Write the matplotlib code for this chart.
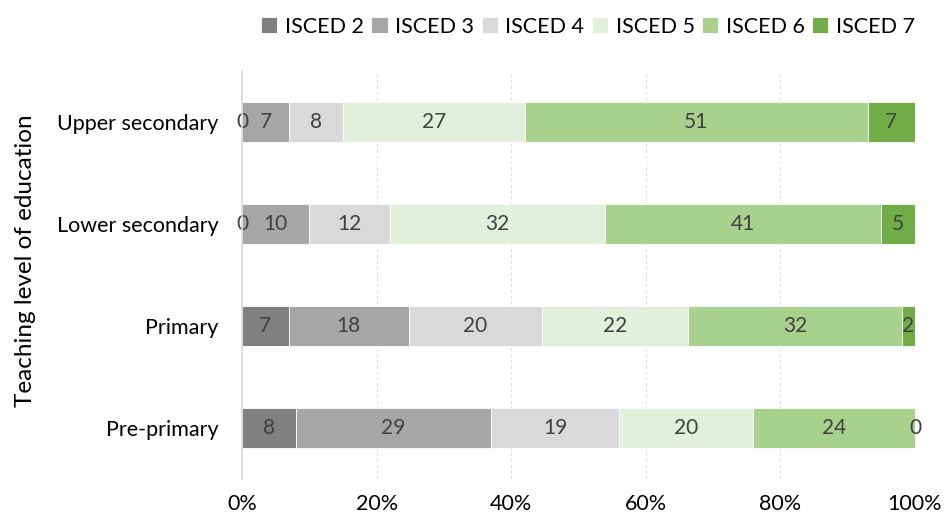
import numpy as np
import matplotlib.pyplot as plt

plt.rcParams['font.family'] = ['Lato', 'DejaVu Sans']

levels = ["Pre-primary", "Primary", "Lower secondary", "Upper secondary"]
series = ["ISCED 2", "ISCED 3", "ISCED 4", "ISCED 5", "ISCED 6", "ISCED 7"]
isced2 = [8, 7, 0, 0]
isced3 = [29, 18, 10, 7]
isced4 = [19, 20, 12, 8]
isced5 = [20, 22, 32, 27]
isced6 = [24, 32, 41, 51]
isced7 = [0, 2, 5, 7]
colors = ["#808080", "#A6A6A6", "#D9D9D9", "#E2EFDA", "#A9D18E", "#70AD47"]

data = np.array([isced2, isced3, isced4, isced5, isced6, isced7], dtype=float)
shares = data / data.sum(axis=0)  # 100% stacked

fig = plt.figure(figsize=(9.47, 5.19), dpi=100)
ax = fig.add_axes([0.2555, 0.077, 0.7107, 0.786])

y = np.arange(len(levels))
left = np.zeros(len(levels))
for i, name in enumerate(series):
    bars = ax.barh(y, shares[i], left=left, height=0.4, color=colors[i],
                   edgecolor="white", linewidth=0.6, label=name, zorder=3)
    for j, b in enumerate(bars):
        cx = left[j] + shares[i][j] / 2
        ax.text(cx, y[j], f"{int(data[i][j])}", ha="center", va="center",
                fontsize=15, color="#404040", zorder=4)
    left += shares[i]

ax.set_xlim(0, 1)
ax.set_ylim(-0.5, len(levels) - 0.5)
ax.set_xticks(np.linspace(0, 1, 6))
ax.set_xticklabels([f"{int(v)}%" for v in np.linspace(0, 100, 6)])
ax.set_yticks(y)
ax.set_yticklabels(levels)
ax.tick_params(axis="both", length=0, labelsize=15.5, colors="#000000")
ax.tick_params(axis="x", pad=11)
ax.tick_params(axis="y", pad=17)
ax.grid(axis="x", color="#DDDDDD", linestyle=(0, (3, 3)), linewidth=0.7, zorder=0)
for s in ["top", "right", "bottom"]:
    ax.spines[s].set_visible(False)
ax.spines["left"].set_color("#D9D9D9")
ax.spines["left"].set_linewidth(1.2)
ax.spines["left"].set_zorder(5)

fig.text(0.027, 0.497, "Teaching level of education", rotation=90,
         ha="center", va="center", fontsize=17.5)

fig.legend(loc="upper center", bbox_to_anchor=(0.621, 1.005), ncol=6, frameon=False,
           fontsize=15.5, handlelength=0.75, handleheight=0.75, handletextpad=0.35,
           columnspacing=0.35)

fig.savefig("out.png", dpi=100)
